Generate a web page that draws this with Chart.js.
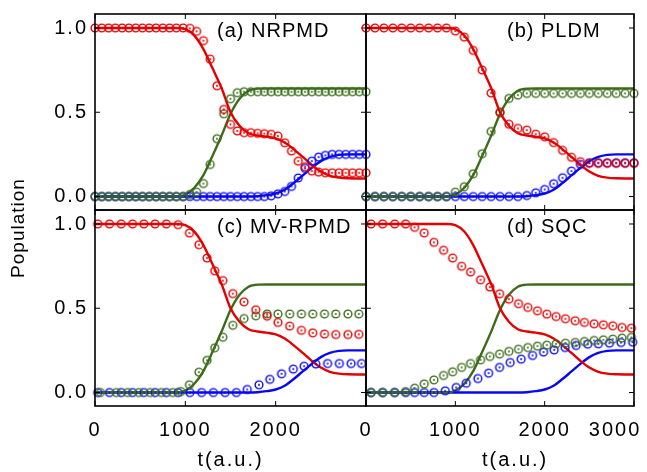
<!DOCTYPE html>
<html>
<head>
<meta charset="utf-8">
<script src="https://cdn.jsdelivr.net/npm/chart.js@4.4.1/dist/chart.umd.min.js"></script>
<style>
  html, body { margin: 0; padding: 0; background: #fff; }
  #wrap { position: relative; width: 647px; height: 472px; overflow: hidden; }
  #wrap canvas { position: absolute; left: 0; top: 0; }
</style>
</head>
<body>
<div id="wrap">
  <canvas id="chartA" width="647" height="472"></canvas>
  <canvas id="chartB" width="647" height="472"></canvas>
  <canvas id="chartC" width="647" height="472"></canvas>
  <canvas id="chartD" width="647" height="472"></canvas>
</div>
<script>
const xTicks = [0, 1000, 2000, 3000];
const yTicks = [0, 0.5, 1.0];

// exact result (solid lines), same in all four panels
const tExact     = [0, 900, 1000, 1100, 1200, 1300, 1400, 1500, 1600, 1700, 1800, 1900, 2000, 2100, 2200, 2300, 2400, 2500, 2600, 2700, 2800, 3000];
const exactRed   = [1.0, 1.0, 0.993, 0.955, 0.875, 0.762, 0.645, 0.5, 0.42, 0.375, 0.362, 0.355, 0.345, 0.32, 0.28, 0.235, 0.188, 0.148, 0.123, 0.112, 0.108, 0.107];
const exactGreen = [0, 0, 0.012, 0.052, 0.127, 0.24, 0.36, 0.49, 0.58, 0.628, 0.64, 0.641, 0.641, 0.641, 0.641, 0.641, 0.641, 0.641, 0.641, 0.641, 0.641, 0.641];
const exactBlue  = [0, 0, 0, 0, 0, 0, 0, 0, 0, 0, 0.002, 0.008, 0.018, 0.04, 0.08, 0.125, 0.17, 0.21, 0.235, 0.247, 0.25, 0.25];

// (a) NRPMD
const nrpmdT = [0, 75, 150, 225, 300, 375, 450, 525, 600, 675, 750, 825, 900, 975, 1050, 1125, 1200, 1275, 1350, 1425, 1500, 1575, 1650, 1725, 1800, 1875, 1950, 2025, 2100, 2175, 2250, 2325, 2400, 2475, 2550, 2625, 2700, 2775, 2850, 2925, 3000];
const nrpmdRed = [1, 1, 1, 1, 1, 1, 1, 1, 1, 1, 1, 1, 1, 1, 0.998, 0.98, 0.925, 0.815, 0.657, 0.517, 0.428, 0.389, 0.379, 0.379, 0.375, 0.373, 0.369, 0.359, 0.319, 0.27, 0.21, 0.177, 0.151, 0.145, 0.141, 0.141, 0.141, 0.141, 0.141, 0.141, 0.141];
const nrpmdGreen = [0, 0, 0, 0, 0, 0, 0, 0, 0, 0, 0, 0, 0, 0, 0.012, 0.026, 0.077, 0.19, 0.343, 0.491, 0.58, 0.616, 0.622, 0.622, 0.622, 0.622, 0.622, 0.622, 0.622, 0.622, 0.622, 0.622, 0.622, 0.622, 0.622, 0.622, 0.622, 0.622, 0.622, 0.622, 0.622];
const nrpmdBlue = [0, 0, 0, 0, 0, 0, 0, 0, 0, 0, 0, 0, 0, 0, 0, 0, 0, 0, 0, 0, 0, 0, 0, 0, 0, 0, 0.004, 0.016, 0.03, 0.06, 0.11, 0.167, 0.21, 0.234, 0.244, 0.25, 0.25, 0.25, 0.25, 0.25, 0.25];

// (b) PLDM
const pldmT = [0, 100, 200, 300, 400, 500, 600, 700, 800, 900, 1000, 1100, 1200, 1300, 1400, 1500, 1600, 1700, 1800, 1900, 2000, 2100, 2200, 2300, 2400, 2500, 2600, 2700, 2800, 2900, 3000];
const pldmRed = [1, 1, 1, 1, 1, 1, 1, 1, 1, 1, 0.982, 0.946, 0.867, 0.751, 0.614, 0.499, 0.429, 0.404, 0.394, 0.37, 0.354, 0.32, 0.274, 0.233, 0.207, 0.197, 0.197, 0.197, 0.197, 0.197, 0.197];
const pldmGreen = [0, 0, 0, 0, 0, 0, 0, 0, 0, 0, 0.026, 0.058, 0.135, 0.254, 0.386, 0.499, 0.582, 0.602, 0.612, 0.612, 0.612, 0.612, 0.612, 0.612, 0.612, 0.612, 0.612, 0.612, 0.612, 0.612, 0.612];
const pldmBlue = [0, 0, 0, 0, 0, 0, 0, 0, 0, 0, 0, 0, 0, 0, 0, 0, 0, 0, 0.006, 0.022, 0.042, 0.076, 0.111, 0.151, 0.191, 0.2, 0.2, 0.2, 0.2, 0.2, 0.2];

// (c) MV-RPMD
const mvRedT = [30, 160, 290, 415, 540, 665, 790, 920, 1045, 1150, 1240, 1325, 1415, 1525, 1650, 1780, 1905, 2025, 2155, 2285, 2410, 2540, 2665, 2800, 2920];
const mvRed = [1, 1, 1, 1, 1, 1, 1, 0.996, 0.946, 0.877, 0.798, 0.722, 0.664, 0.587, 0.538, 0.491, 0.453, 0.416, 0.394, 0.369, 0.354, 0.347, 0.344, 0.344, 0.345];
const mvGreenT = [60, 235, 360, 485, 610, 735, 860, 950, 1045, 1150, 1240, 1325, 1415, 1525, 1650, 1780, 1905, 2025, 2155, 2285, 2410, 2540, 2665, 2800, 2920];
const mvGreen = [0, 0, 0, 0, 0, 0, 0, 0.006, 0.046, 0.121, 0.191, 0.265, 0.328, 0.399, 0.439, 0.455, 0.466, 0.466, 0.466, 0.466, 0.466, 0.466, 0.466, 0.466, 0.466];
const mvBlueT = [30, 160, 290, 415, 540, 665, 790, 920, 1050, 1180, 1310, 1440, 1565, 1685, 1815, 1935, 2065, 2195, 2315, 2445, 2575, 2705, 2835, 2950];
const mvBlue = [0, 0, 0, 0, 0, 0, 0, 0, 0, 0, 0, 0, 0, 0.018, 0.046, 0.078, 0.111, 0.139, 0.156, 0.169, 0.172, 0.172, 0.172, 0.172];

// (d) SQC
const sqcT = [56, 186, 320, 443, 544, 652, 760, 868, 969, 1070, 1170, 1282, 1386, 1495, 1599, 1707, 1811, 1919, 2024, 2128, 2232, 2341, 2445, 2553, 2657, 2762, 2866, 2970];
const sqcRed = [1, 1, 1, 1, 0.98, 0.947, 0.891, 0.844, 0.798, 0.749, 0.715, 0.669, 0.626, 0.586, 0.554, 0.527, 0.505, 0.485, 0.465, 0.451, 0.438, 0.426, 0.416, 0.408, 0.402, 0.396, 0.386, 0.382];
const sqcGreen = [0, 0, 0, 0.005, 0.026, 0.051, 0.075, 0.101, 0.123, 0.149, 0.172, 0.194, 0.214, 0.228, 0.244, 0.257, 0.267, 0.275, 0.281, 0.289, 0.293, 0.297, 0.303, 0.309, 0.313, 0.317, 0.323, 0.327];
const sqcBlueT = [56, 186, 320, 443, 544, 652, 760, 887, 1010, 1122, 1252, 1372, 1495, 1614, 1737, 1864, 1987, 2106, 2229, 2352, 2482, 2601, 2725, 2855, 2985];
const sqcBlue = [0, 0, 0, 0, 0, 0, 0, 0.01, 0.03, 0.055, 0.083, 0.115, 0.149, 0.178, 0.198, 0.22, 0.24, 0.253, 0.267, 0.279, 0.287, 0.289, 0.293, 0.297, 0.299];

const RED = 'rgb(228, 0, 0)';
const GREEN = 'rgb(60, 108, 26)';
const BLUE = 'rgb(8, 8, 240)';

Chart.defaults.font.family = '"Liberation Sans", Arial, sans-serif';
Chart.defaults.color = '#000';

const W = 647, H = 472;

// open circle with a dot in the middle
function ring(color) {
  const c = document.createElement('canvas');
  c.width = 12; c.height = 12;
  const g = c.getContext('2d');
  g.strokeStyle = color;
  g.lineWidth = 1.4;
  g.beginPath(); g.arc(6, 6, 3.9, 0, Math.PI * 2); g.stroke();
  g.fillStyle = color;
  g.beginPath(); g.arc(6, 6, 1.0, 0, Math.PI * 2); g.fill();
  return c;
}

const pts = (ts, vs) => ts.map((t, i) => ({x: t, y: vs[i]}));

// wider text like the original
const spacing = {
  id: 'spacing',
  beforeLayout(chart) { chart.ctx.letterSpacing = '2px'; },
  beforeDraw(chart) { chart.ctx.letterSpacing = '2px'; }
};

// box, inward ticks on all sides, panel label
const frame = {
  id: 'frame',
  afterDatasetsDraw(chart, args, opts) {
    const {ctx, chartArea: a} = chart;
    const x = chart.scales.x, y = chart.scales.y;
    ctx.save();
    ctx.strokeStyle = '#000';
    ctx.lineWidth = 1;
    ctx.beginPath();
    xTicks.forEach(v => {
      const px = x.getPixelForValue(v);
      ctx.moveTo(px, a.bottom); ctx.lineTo(px, a.bottom - 5);
      ctx.moveTo(px, a.top); ctx.lineTo(px, a.top + 5);
    });
    yTicks.forEach(v => {
      const py = y.getPixelForValue(v);
      ctx.moveTo(a.left, py); ctx.lineTo(a.left + 5, py);
      ctx.moveTo(a.right, py); ctx.lineTo(a.right - 5, py);
    });
    ctx.stroke();
    ctx.lineWidth = 1.6;
    ctx.strokeRect(a.left, a.top, a.right - a.left, a.bottom - a.top);

    ctx.fillStyle = '#000';
    ctx.font = '20px "Liberation Sans", Arial, sans-serif';
    ctx.letterSpacing = '1px';
    ctx.textAlign = 'left';
    ctx.textBaseline = 'alphabetic';
    ctx.fillText(opts.label, a.left + opts.dx, a.top + 23);
    if (opts.ylabel) {
      ctx.font = '19px "Liberation Sans", Arial, sans-serif';
      ctx.translate(19, 228);
      ctx.rotate(-Math.PI / 2);
      ctx.textAlign = 'center';
      ctx.textBaseline = 'middle';
      ctx.fillText(opts.ylabel, 0, 0);
    }
    ctx.restore();
  }
};

function makePanel(id, box, opt) {
  const datasets = [
    {data: pts(tExact, exactRed), borderColor: RED},
    {data: pts(tExact, exactGreen), borderColor: GREEN},
    {data: pts(tExact, exactBlue), borderColor: BLUE}
  ].map(d => Object.assign(d, {
    pointRadius: 0, borderWidth: 2.4, cubicInterpolationMode: 'monotone', order: 1
  }));
  opt.series.forEach(s => {
    datasets.push({
      data: pts(s[0], s[1]), showLine: false, pointStyle: ring(s[2]),
      pointRadius: 4, borderColor: s[2], order: 0, clip: false
    });
  });

  const yAxis = {
    type: 'linear', min: -0.08, max: 1.083, display: opt.yShown,
    grid: {display: false, drawTicks: false},
    border: {display: false},
    afterBuildTicks: s => { s.ticks = yTicks.map(v => ({value: v})); },
    afterFit: s => {
      if (opt.yShown) s.width = 60;
      s.paddingTop = 0; s.paddingBottom = 0;
    },
    ticks: {padding: 7, font: {size: 20}, callback: v => v.toFixed(1)}
  };
  const xAxis = {
    type: 'linear', min: 0, max: 3000, display: opt.xShown,
    grid: {display: false, drawTicks: false},
    border: {display: false},
    afterBuildTicks: s => { s.ticks = xTicks.map(v => ({value: v})); },
    afterFit: s => {
      if (opt.xShown) s.height = 66;
      s.paddingLeft = 0; s.paddingRight = 0;
    },
    ticks: {autoSkip: false, maxRotation: 0, padding: 12, font: {size: 20}, callback: opt.xLabel},
    title: {display: opt.xShown, text: opt.xTitle, padding: 0, font: {size: 20}}
  };

  return new Chart(document.getElementById(id), {
    type: 'line',
    data: {datasets: datasets},
    options: {
      responsive: false,
      animation: false,
      devicePixelRatio: 1,
      layout: {
        padding: {
          left: opt.yShown ? box.left - 60 : box.left,
          top: box.top,
          right: W - box.right,
          bottom: opt.xShown ? H - box.bottom - 66 : H - box.bottom
        }
      },
      scales: {x: xAxis, y: yAxis},
      plugins: {
        legend: {display: false},
        tooltip: {enabled: false},
        frame: {label: opt.label, dx: opt.dx, ylabel: opt.ylabel}
      }
    },
    plugins: [spacing, frame]
  });
}

const chartA = makePanel('chartA', {left: 95, top: 14, right: 366, bottom: 210}, {
  label: '(a) NRPMD', dx: 122, yShown: true, xShown: false,
  series: [[nrpmdT, nrpmdRed, RED], [nrpmdT, nrpmdGreen, GREEN], [nrpmdT, nrpmdBlue, BLUE]]
});

const chartB = makePanel('chartB', {left: 366, top: 14, right: 634, bottom: 210}, {
  label: '(b) PLDM', dx: 141, yShown: false, xShown: false,
  series: [[pldmT, pldmRed, RED], [pldmT, pldmGreen, GREEN], [pldmT, pldmBlue, BLUE]]
});

const chartC = makePanel('chartC', {left: 95, top: 210, right: 366, bottom: 406}, {
  label: '(c) MV-RPMD', dx: 122, yShown: true, xShown: true, ylabel: 'Population',
  xTitle: 't(a.u.)',
  xLabel: v => v === 3000 ? '' : String(v),
  series: [[mvRedT, mvRed, RED], [mvGreenT, mvGreen, GREEN], [mvBlueT, mvBlue, BLUE]]
});

const chartD = makePanel('chartD', {left: 366, top: 210, right: 634, bottom: 406}, {
  label: '(d) SQC', dx: 141, yShown: false, xShown: true,
  xTitle: '    t(a.u.)',
  xLabel: v => v === 3000 ? '3000     ' : String(v),
  series: [[sqcT, sqcRed, RED], [sqcT, sqcGreen, GREEN], [sqcBlueT, sqcBlue, BLUE]]
});
</script>
</body>
</html>
